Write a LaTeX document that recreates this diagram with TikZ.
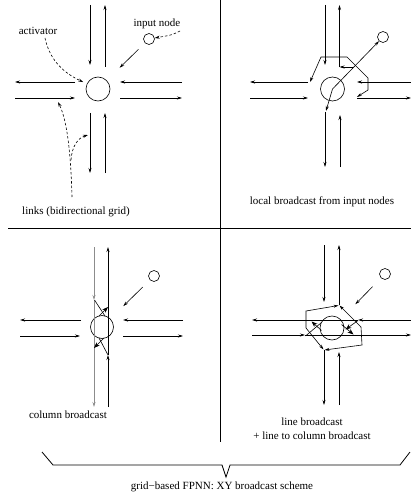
\documentclass[tikz,border=0pt]{standalone}
\usepackage{fontspec}
\setmainfont{Liberation Serif}
\usetikzlibrary{arrows.meta}
\begin{document}
\begin{tikzpicture}[x=1pt,y=-1pt,line width=0.6pt,
  >={Stealth[length=5pt,width=3pt]},
  lnk/.style={->},
  tlnk/.style={->,line width=1pt},
  glnk/.style={->,draw=black!45,line width=0.9pt},
  big/.style={-{Stealth[length=6pt,width=4.5pt]}},
  unit/.style={circle,draw,minimum size=24pt,inner sep=0pt},
  inp/.style={circle,draw,minimum size=11pt,inner sep=0pt},
  lbl/.style={font=\fontsize{11}{14}\selectfont,inner sep=0pt},
  dsh/.style={->,dash pattern=on 2.5pt off 2pt},
  frame/.style={line width=1pt}]
\useasboundingbox (0,0) rectangle (411,500);

% frame
\coordinate (vt) at (220,0); \coordinate (vb) at (220,442);
\coordinate (hl) at (8,228); \coordinate (hr) at (411,228);
\draw[frame] (vt) -- (vb);
\draw[frame] (hl) -- (hr);

% ---------- panel 1 ----------
\begin{scope}[shift={(97.5,90)}]
\node[unit] (c1) at (0.5,-1) {};
\draw[lnk] (-7.5,-85) -- (-7.5,-25);
\draw[lnk] (7.5,-23) -- (7.5,-85);
\draw[lnk] (-7.5,23) -- (-7.5,83);
\draw[lnk] (7.5,83) -- (7.5,23);
\draw[lnk] (-22.5,-8) -- (-82.5,-8);
\draw[lnk] (-82.5,8) -- (-22.5,8);
\draw[lnk] (84.5,-8) -- (22.5,-8);
\draw[lnk] (22.5,8) -- (84.5,8);
\end{scope}
\node[inp] (i1) at (149,39) {};
\draw[->,shorten <=9pt,shorten >=18pt] (i1) -- (c1);
\node[lbl] (tact) at (38,31) {activator};
\node[lbl] (tinp) at (157,24) {input node};
\node[lbl] (tlnk) at (76,212) {links (bidirectional grid)};
\coordinate (d1) at (180,31);
\draw[dsh] (d1) .. controls (172,35) .. (i1);
\coordinate (d2) at (45,38);
\draw[dsh,shorten >=4pt] (d2) .. controls (50,62) and (66,74) .. (c1);
\coordinate (d3) at (72,197); \coordinate (d3a) at (58,102);
\coordinate (d4) at (71,160); \coordinate (d4a) at (88,135);
\draw[dsh] (d3) .. controls (71,160) and (68,122) .. (d3a);
\draw[dsh] (d4) .. controls (72,146) and (78,138) .. (d4a);

% ---------- panel 2 ----------
\begin{scope}[shift={(332.5,90)}]
\node[unit] (c2) at (0,-1) {};
\draw[lnk] (-7.5,-85) -- (-7.5,-25);
\draw[lnk] (7,-23) -- (7,-85);
\draw[lnk] (-7.5,22) -- (-7.5,77);
\draw[lnk] (7.5,77) -- (7.5,25);
\draw[lnk] (-24.5,-8) -- (-82.5,-8);
\draw[lnk] (-82.5,8) -- (-24.5,8);
\draw[lnk] (78.5,-8) -- (24.5,-8);
\draw[lnk] (24.5,8) -- (78.5,8);
\draw[<->] (-22.5,-8) -- (-11.5,-33) -- (14.5,-33) -- (35.5,-12) -- (35.5,0) -- (24.5,7);
\draw[->] (20.5,-23) -- (7,-23);
\end{scope}
\node[inp] (i2) at (383,37) {};
\draw[<->] (i2) -- (c2.center) -- (326,111);
\node[lbl] (t2) at (322,202) {local broadcast from input nodes};

% ---------- panel 3 ----------
\begin{scope}[shift={(101,328)}]
\node[unit,minimum size=23pt] (c3) at (1,-1) {};
\draw[glnk] (-7,-81) -- (-7,-28);
\draw[glnk] (-7,-28) -- (-7,79);
\draw[tlnk] (7,79) -- (7,27);
\draw[tlnk] (7,27) -- (7,-81);
\draw[tlnk] (-20,-8) -- (-81,-8);
\draw[lnk] (-81,8) -- (-21,8);
\draw[tlnk] (82,-8) -- (22,-8);
\draw[lnk] (22,8) -- (82,8);
\draw (-6.5,-28) -- (4,-12);
\draw[big] (-2,-12) -- (7,-21);
\draw[big] (3,10) -- (-7,20);
\draw (7,27) -- (-2,10);
\end{scope}
\node[inp] (i3) at (154,276) {};
\draw[->,shorten <=10pt,shorten >=18pt] (i3) -- (c3);
\node[lbl] (t3) at (68,415) {column broadcast};

% ---------- panel 4 ----------
\begin{scope}[shift={(331.5,327.5)}]
\node[unit] (c4) at (0.5,0.5) {};
\draw[lnk] (-7.5,-82.5) -- (-7.5,-25.5);
\draw[lnk] (7.5,-22.5) -- (7.5,-82.5);
\draw[lnk] (-7.5,22.5) -- (-7.5,77.5);
\draw[lnk] (7.5,77.5) -- (7.5,24.5);
\draw[tlnk] (79.5,-7.5) -- (26.5,-7.5);
\draw[tlnk] (26.5,-7.5) -- (-79.5,-7.5);
\draw[lnk] (-79.5,7.5) -- (-26.5,7.5);
\draw[lnk] (-26.5,7.5) -- (79.5,7.5);
\draw[->] (-25.5,0.5) -- (-25.5,-16.5) -- (7,-22);
\draw[->] (29.5,-0.5) -- (8,-22);
\draw[->] (29.5,-0.5) -- (30.5,17.5) -- (-7,22.5);
\draw[->] (-25.5,0.5) -- (-8,22);
\draw[big] (-10,3) -- (-20,-6);
\draw (-26,8.5) -- (-10,-5);
\draw[big] (10,-3) -- (22,7);
\draw[big] (26.5,-7) -- (14,2);
\end{scope}
\node[inp] (i4) at (385,274) {};
\draw[->,shorten <=12pt,shorten >=21pt] (i4) -- (c4);
\node[lbl,align=center] (t4) at (312,429) {line broadcast\\+ line to column broadcast};

% ---------- brace ----------
\coordinate (b1) at (42,452); \coordinate (b2) at (410,452);
\draw[line width=0.8pt] (b1) -- (53,465) -- (222,465) -- (226,477) -- (230,465) -- (400,465) -- (b2);
\node[lbl] (tb) at (222,487) {grid−based FPNN: XY broadcast scheme};
\end{tikzpicture}
\end{document}
